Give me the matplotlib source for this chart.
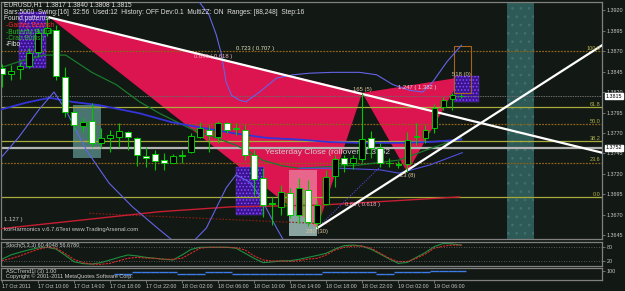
import numpy as np
import matplotlib
matplotlib.use("Agg")
import matplotlib.pyplot as plt
import matplotlib.transforms as mtransforms
from matplotlib.patches import Polygon, Rectangle

plt.rcParams['font.family'] = ['Liberation Sans', 'DejaVu Sans']
plt.rcParams['hatch.linewidth'] = 0.7

# =============================================================================
# EURUSD H1 bars, from 17 Oct 2011 06:00
# =============================================================================
opens  = [1.3849, 1.3842, 1.3848, 1.3852, 1.3869, 1.3892, 1.3896, 1.3838, 1.3796, 1.3778,
          1.3785, 1.3758, 1.3764, 1.3765, 1.3771, 1.3764, 1.3742, 1.3744, 1.3737, 1.3734,
          1.3743, 1.3747, 1.3765, 1.3774, 1.3765, 1.3782, 1.3776, 1.3774, 1.3743, 1.3715,
          1.3685, 1.3680, 1.3697, 1.3670, 1.3700, 1.3660, 1.3683, 1.3718, 1.3740, 1.3734,
          1.3738, 1.3764, 1.3752, 1.3734, 1.3732, 1.3732, 1.3765, 1.3764, 1.3776, 1.3802,
          1.3811, 1.3815]
highs  = [1.3854, 1.3853, 1.3857, 1.3874, 1.3898, 1.3911, 1.3902, 1.3850, 1.3798, 1.3788,
          1.3807, 1.3776, 1.3774, 1.3782, 1.3772, 1.3765, 1.3753, 1.3749, 1.3745, 1.3744,
          1.3749, 1.3770, 1.3783, 1.3780, 1.3785, 1.3783, 1.3782, 1.3780, 1.3749, 1.3727,
          1.3692, 1.3707, 1.3703, 1.3715, 1.3713, 1.3688, 1.3725, 1.3743, 1.3743, 1.3743,
          1.3819, 1.3773, 1.3758, 1.3740, 1.3736, 1.3771, 1.3782, 1.3780, 1.3805, 1.3814,
          1.3819, 1.3818]
lows   = [1.3826, 1.3835, 1.3836, 1.3849, 1.3863, 1.3888, 1.3835, 1.3789, 1.3774, 1.3771,
          1.3753, 1.3752, 1.3747, 1.3753, 1.3749, 1.3730, 1.3729, 1.3725, 1.3725, 1.3733,
          1.3734, 1.3746, 1.3764, 1.3747, 1.3758, 1.3770, 1.3767, 1.3737, 1.3694, 1.3667,
          1.3658, 1.3670, 1.3666, 1.3660, 1.3656, 1.3654, 1.3682, 1.3704, 1.3722, 1.3726,
          1.3735, 1.3740, 1.3728, 1.3728, 1.3727, 1.3722, 1.3755, 1.3758, 1.3770, 1.3798,
          1.3798, 1.3813]
closes = [1.3842, 1.3846, 1.3852, 1.3868, 1.3892, 1.3898, 1.3839, 1.3796, 1.3780, 1.3783,
          1.3758, 1.3764, 1.3768, 1.3772, 1.3765, 1.3743, 1.3739, 1.3736, 1.3734, 1.3742,
          1.3742, 1.3766, 1.3776, 1.3768, 1.3782, 1.3774, 1.3775, 1.3743, 1.3714, 1.3682,
          1.3683, 1.3698, 1.3670, 1.3703, 1.3661, 1.3682, 1.3716, 1.3738, 1.3732, 1.3740,
          1.3763, 1.3752, 1.3733, 1.3733, 1.3731, 1.3761, 1.3766, 1.3774, 1.3800, 1.3810,
          1.3816, 1.3815]

stoch_main   = [28, 46, 57, 67, 75, 78, 71, 46, 18, 10, 8, 14, 25, 36, 46, 42, 36, 32, 28, 25,
                46, 69, 78, 78, 78, 78, 74, 53, 32, 14, 17, 21, 22, 28, 36, 44, 53, 71, 85, 87,
                83, 69, 50, 29, 11, 15, 36, 56, 81, 94, 92, 87]
stoch_signal = [22, 31, 42, 56, 69, 78, 75, 53, 28, 14, 8, 7, 11, 22, 32, 36, 33, 32, 28, 28,
                32, 53, 74, 78, 78, 78, 76, 67, 42, 25, 21, 21, 19, 22, 29, 32, 46, 67, 78, 83,
                83, 74, 53, 32, 18, 19, 32, 50, 74, 83, 87, 87]

# trend indicator (third window), from bar 13
asc_start = 13
asc_level = [0.5, 0.5, 0.67, 0.67, 0.67, 0.67, 0.67, 0.5, 0.5, 0.5, 0.67, 0.67, 0.67,
             0.5, 0.5, 0.5, 0.5, 0.5, 0.5, 0.5, 0.5, 0.5, 0.5, 0.67, 0.67, 0.67, 0.67,
             0.67, 0.67, 0.5, 0.5, 0.67, 0.67, 0.67, 0.67, 0.75, 0.75, 0.75, 0.75]

time_labels = ['17 Oct 2011', '17 Oct 10:00', '17 Oct 14:00', '17 Oct 18:00', '17 Oct 22:00',
               '18 Oct 02:00', '18 Oct 06:00', '18 Oct 10:00', '18 Oct 14:00', '18 Oct 18:00',
               '18 Oct 22:00', '19 Oct 02:00', '19 Oct 06:00']
price_ticks = [1.3645, 1.3670, 1.3695, 1.3720, 1.3745, 1.3770, 1.3795, 1.3820,
               1.3845, 1.3870, 1.3895, 1.3920]

fib_pct = [100.0, 61.8, 50.0, 38.2, 23.6, 0.0]
fib_solid = [False, True, False, True, False, True]
fib_top, fib_bottom = 1.3870, 1.3692

bid_price = 1.3815
yesterday_close = 1.3752

# Gartley bearish X A B C D  (bar index, price)
pat_x = [5.3, 35.0, 40.0, 45.0, 51.0]
pat_p = [1.3911, 1.3654, 1.3819, 1.3722, 1.3838]
point_tags = ['280 (30)', '165 (5)', '23 (8)', '518 (0)']

# trend lines (bar, price)
trend_down_x, trend_down_p = [5.3, 66.6], [1.3911, 1.3746]
trend_up_x, trend_up_p = [35.0, 66.6], [1.3654, 1.3877]

# indicator lines
upper_band_x = [21.9, 23.0, 23.8, 24.4, 24.9, 25.5, 26.4, 27.1, 28.6, 30.5, 32.3, 34.2, 36.7,
                39.7, 41.6, 43.4, 45.3, 46.7, 47.8, 49.4, 51.0]
upper_band_p = [1.3930, 1.3914, 1.3890, 1.3865, 1.3832, 1.3816, 1.3810, 1.3808, 1.3820, 1.3837,
                1.3841, 1.3843, 1.3844, 1.3844, 1.3841, 1.3829, 1.3822, 1.3820, 1.3832, 1.3857,
                1.3877]
lower_band_x = [-0.3, 1.9, 4.1, 5.8, 7.1, 9.4, 11.9, 14.5, 17.5, 20.3, 22.7, 24.9, 26.0, 27.5,
                28.6, 30.5, 31.9]
lower_band_p = [1.3737, 1.3765, 1.3798, 1.3820, 1.3798, 1.3749, 1.3709, 1.3680, 1.3652, 1.3627,
                1.3654, 1.3703, 1.3719, 1.3710, 1.3694, 1.3654, 1.3627]
thin_blue_x = [33.0, 37.5, 42.0, 44.1, 47.5, 51.1]
thin_blue_p = [1.3727, 1.3727, 1.3725, 1.3721, 1.3731, 1.3746]
ma_blue_x = [-0.3, 2.7, 5.3, 7.8, 10.8, 15.3, 18.9, 21.9, 25.6, 29.4, 33.0, 36.4, 39.7, 44.1,
             47.5, 51.0]
ma_blue_p = [1.3798, 1.3807, 1.3813, 1.3808, 1.3804, 1.3794, 1.3783, 1.3777, 1.3770, 1.3764,
             1.3762, 1.3759, 1.3758, 1.3758, 1.3759, 1.3762]
ma_green_x = [-0.3, 1.9, 4.7, 7.1, 10.0, 12.7, 15.3, 17.5, 20.8, 23.8, 26.0, 27.5, 28.9, 31.1,
              33.0, 36.4, 39.7, 44.1, 47.8, 51.0]
ma_green_p = [1.3849, 1.3857, 1.3865, 1.3865, 1.3844, 1.3829, 1.3808, 1.3794, 1.3776, 1.3764,
              1.3755, 1.3747, 1.3737, 1.3730, 1.3727, 1.3729, 1.3731, 1.3737, 1.3752, 1.3764]
ma_red_x = [-0.3, 17.5, 25.6, 35.3, 50.8]
ma_red_p = [1.3653, 1.3674, 1.3680, 1.3682, 1.3692]
red_dot_x, red_dot_p = [9.7, 36.4], [1.3672, 1.3659]

# zones (bar0, bar1, price0, price1)
prz_boxes = [(1.9, 4.9, 1.3849, 1.3918), (26.0, 29.1, 1.3670, 1.3729), (50.2, 53.0, 1.3808, 1.3839)]
grey_box = (7.9, 11.0, 1.3740, 1.3804)
low_box = (31.9, 35.0, 1.3644, 1.3725)
target_box = (50.2, 52.1, 1.3819, 1.3876)
future_zone = (56.1, 59.1)

# =============================================================================
# figure
# =============================================================================
W, H = 625, 291
bg = '#121814'
frame = '#808080'
fig = plt.figure(figsize=(W / 100, H / 100), dpi=100, facecolor=bg)


def box(x0, x1, y0, y1):
    return [x0 / W, 1 - y1 / H, (x1 - x0) / W, (y1 - y0) / H]


ax = fig.add_axes(box(1, 602, 2, 239))
ax2 = fig.add_axes(box(1, 602, 242, 266))
ax3 = fig.add_axes(box(1, 602, 268, 280))

for a in (ax, ax2, ax3):
    a.set_facecolor(bg)
    for s in a.spines.values():
        s.set_color(frame)
        s.set_linewidth(0.9)
    a.set_xlim(-0.08, 66.6)
    a.tick_params(colors=frame, labelcolor='#c8c8c8', length=2, width=0.6, pad=1.5)
    a.set_xticks([])

ax.set_ylim(1.36407, 1.39298)
bars = np.arange(len(opens))

# zones
ax.axvspan(future_zone[0], future_zone[1], fc='#2d5956', ec='#3f706d', hatch='..', lw=0, zorder=1.0)
gx0, gx1, gy0, gy1 = grey_box
ax.add_patch(Rectangle((gx0, gy0), gx1 - gx0, gy1 - gy0, fc='#4a7470', lw=0, zorder=1.1))
lx0, lx1, ly0, ly1 = low_box
ax.add_patch(Rectangle((lx0, ly0), lx1 - lx0, ly1 - ly0, fc='#4a7470', lw=0, zorder=1.1))

# pattern triangles
pink = '#dc1450'
ax.add_patch(Polygon(list(zip(pat_x[0:3], pat_p[0:3])), closed=True, fc=pink, lw=0, zorder=1.3))
ax.add_patch(Polygon(list(zip(pat_x[2:5], pat_p[2:5])), closed=True, fc=pink, lw=0, zorder=1.3))
ax.add_patch(Rectangle((lx0, ly0), lx1 - lx0, ly1 - ly0, fc='white', alpha=0.35, lw=0, zorder=1.4))

for b0, b1, p0, p1 in prz_boxes:
    ax.add_patch(Rectangle((b0, p0), b1 - b0, p1 - p0, fc='#3a1490', ec='#8a4aff',
                           hatch='.....', lw=0.2, zorder=1.5))
tx0, tx1, ty0, ty1 = target_box
ax.add_patch(Rectangle((tx0, ty0), tx1 - tx0, ty1 - ty0, fc='none', ec='#a8641e', lw=0.8, zorder=1.6))

# horizontal levels
for pct, solid in zip(fib_pct, fib_solid):
    lvl = fib_bottom + pct / 100.0 * (fib_top - fib_bottom)
    if solid:
        ax.axhline(lvl, color='#a8ac3c', lw=0.9, zorder=2)
    else:
        ax.axhline(lvl, color='#8c6418', lw=0.9, ls=(0, (1.5, 1)), zorder=2)
    ax.text(66.4, lvl + 0.00003, '%.1f' % pct, ha='right', va='bottom', fontsize=4,
            color='#b4b44a', zorder=7)
ax.axhline(bid_price, color='#6a6a6a', lw=0.7, ls=(0, (1.5, 1)), zorder=2)
ax.axhline(yesterday_close, color='#b4b4b4', lw=1.6, zorder=2)
ax.plot(red_dot_x, red_dot_p, color='#8c2010', lw=0.8, ls=(0, (1.5, 1.5)), zorder=2)

# indicator lines
ax.plot(ma_red_x, ma_red_p, color='#c81e32', lw=1.0, zorder=3)
ax.plot(ma_green_x, ma_green_p, color='#1a7a2a', lw=0.9, zorder=3)
ax.plot(ma_blue_x, ma_blue_p, color='#3434d8', lw=1.3, zorder=3)
ax.plot(upper_band_x, upper_band_p, color='#6464e6', lw=0.8, zorder=3)
ax.plot(lower_band_x, lower_band_p, color='#6464e6', lw=0.8, zorder=3)
ax.plot(thin_blue_x, thin_blue_p, color='#5050e0', lw=0.8, zorder=3)
ax.plot([pat_x[1], pat_x[1] + 7], [pat_p[1], pat_p[1] + 0.0075], color='#6a4aff', lw=0.7,
        ls=(0, (1, 1.5)), zorder=3)

# trend lines
ax.plot(trend_down_x, trend_down_p, color='white', lw=1.6, zorder=4)
ax.plot(trend_up_x, trend_up_p, color='white', lw=1.6, zorder=4)

ax.text(29.2, yesterday_close - 0.0002, 'Yesterday Close (rollover) 1.3752', ha='left', va='top',
        fontsize=6, color='#cfcfcf', zorder=4.5)

# candles
o, h, l, c = map(np.array, (opens, highs, lows, closes))
green = '#00c800'
ax.vlines(bars, l, h, color=green, lw=0.8, zorder=5)
face = np.where(c > o + 0.00002, 'black', np.where(c < o - 0.00002, 'white', green))
height = np.maximum(np.abs(c - o), 0.00003)
ax.bar(bars, height, bottom=np.minimum(o, c), width=0.62, color=face, edgecolor=green,
       linewidth=0.7, zorder=6)

# pattern labels
lab = dict(fontsize=4.2, zorder=7, textcoords='offset points', ha='center')
X, A, B, C, D = list(zip(pat_x, pat_p))
mid = lambda p, q: ((p[0] + q[0]) / 2, (p[1] + q[1]) / 2)
ax.annotate('0.696 ( 0.618 )', mid(X, B), xytext=(5, -1), va='center', color='#f0a8bc', **lab)
ax.annotate('0.723 ( 0.707 )', mid(X, D), xytext=(0, -1), va='center', color='#e4e4c0', **lab)
ax.annotate('1.247 ( 1.382 )', mid(B, D), xytext=(4, -2), va='center', color='#f0d0d8', **lab)
ax.annotate('0.66 ( 0.618 )', mid(A, C), xytext=(0, -3), va='center', color='#f0a8bc', **lab)
ax.annotate(point_tags[0], A, xytext=(0, -1), va='top', color='#d8c8a0', **lab)
ax.annotate(point_tags[1], B, xytext=(0, 0.5), va='bottom', color='#d8c8a0', **lab)
ax.annotate(point_tags[2], C, xytext=(0, -0.5), va='top', color='#d8c8a0', **lab)
ax.annotate(point_tags[3], D, xytext=(0, 0.5), va='bottom', color='#d8c8a0', **lab)

# price scale
ax.yaxis.tick_right()
ax.set_yticks(price_ticks)
ax.set_yticklabels(['%.4f' % p for p in price_ticks], fontsize=3.9)
trans = mtransforms.blended_transform_factory(ax.transAxes, ax.transData)
for p in (bid_price, yesterday_close):
    ax.text(1.006, p, '%.4f' % p, transform=trans, ha='left', va='center', fontsize=3.9,
            color='black', bbox=dict(fc='white', ec='white', pad=0.5), clip_on=False, zorder=10)

# header texts
def ftext(x, y, s, color='#e0e0e0', size=4.8):
    fig.text(x / W, 1 - y / H, s, color=color, fontsize=size, ha='left', va='center', zorder=10)


ftext(4, 5, 'EURUSD,H1  1.3817 1.3840 1.3808 1.3815')
ftext(4, 12, 'Bars:5000  Swing:[16]  32:56  Used:12  History: OFF Dev:0.1  MultiZZ: ON  '
             'Ranges: [88,248]  Step:16')
ftext(4, 19, 'Found patterns:')
ftext(6, 25.5, '-Gartley Bearish', color='#ff2424')
ftext(6, 32, '-Butterfly Bullish', color='#22c022')
ftext(6, 38.5, '-Crab Bullish', color='#2ea82e')
ftext(6, 45, '-Fibo', color='#f0f0f0')
ftext(4, 219, '1.127 )', color='#c8c8c8', size=4.2)
ftext(4, 230, 'korHarmonics v.6.7.6Test www.TradingArsenal.com', color='#c8c8c8', size=4.2)

# stochastic window
ax2.set_ylim(0, 100)
ax2.plot(bars, stoch_main, color='#1e9040', lw=0.8)
ax2.plot(bars, stoch_signal, color='#dc2828', lw=0.8, ls=(0, (2, 1)))
for lv in (80, 20):
    ax2.axhline(lv, color='#707070', lw=0.6, ls=(0, (1, 2)))
ax2.yaxis.tick_right()
ax2.set_yticks([20, 80])
ax2.set_yticklabels(['20', '80'], fontsize=3.9)
ax2.text(0.008, 0.85, 'Stoch(5,3,3) 60.4048 56.6780', transform=ax2.transAxes, fontsize=4,
         color='#d0d0d0', va='center')

# third window
ax3.set_ylim(0, 1)
asc_bars = np.arange(asc_start, asc_start + len(asc_level))
ax3.hlines(asc_level, asc_bars - 0.5, asc_bars + 0.5, color='#3c7ce6', lw=1.0)
ax3.yaxis.tick_right()
ax3.set_yticks([0.75])
ax3.set_yticklabels(['100'], fontsize=3.9)
ax3.text(0.008, 0.75, 'ASCTrend1i (3) 1.00', transform=ax3.transAxes, fontsize=4,
         color='#d0d0d0', va='center')
ax3.text(0.008, 0.3, 'Copyright \u00a9 2001-2011 MetaQuotes Software Corp.', transform=ax3.transAxes,
         fontsize=4, color='#d0d0d0', va='center')

# time axis
ax3.set_xticks(np.arange(0, 4 * len(time_labels), 4))
ax3.set_xticklabels(time_labels, fontsize=3.8, ha='left')
ax3.tick_params(axis='x', length=2, pad=1)

fig.savefig('out.png', dpi=100, facecolor=bg)
